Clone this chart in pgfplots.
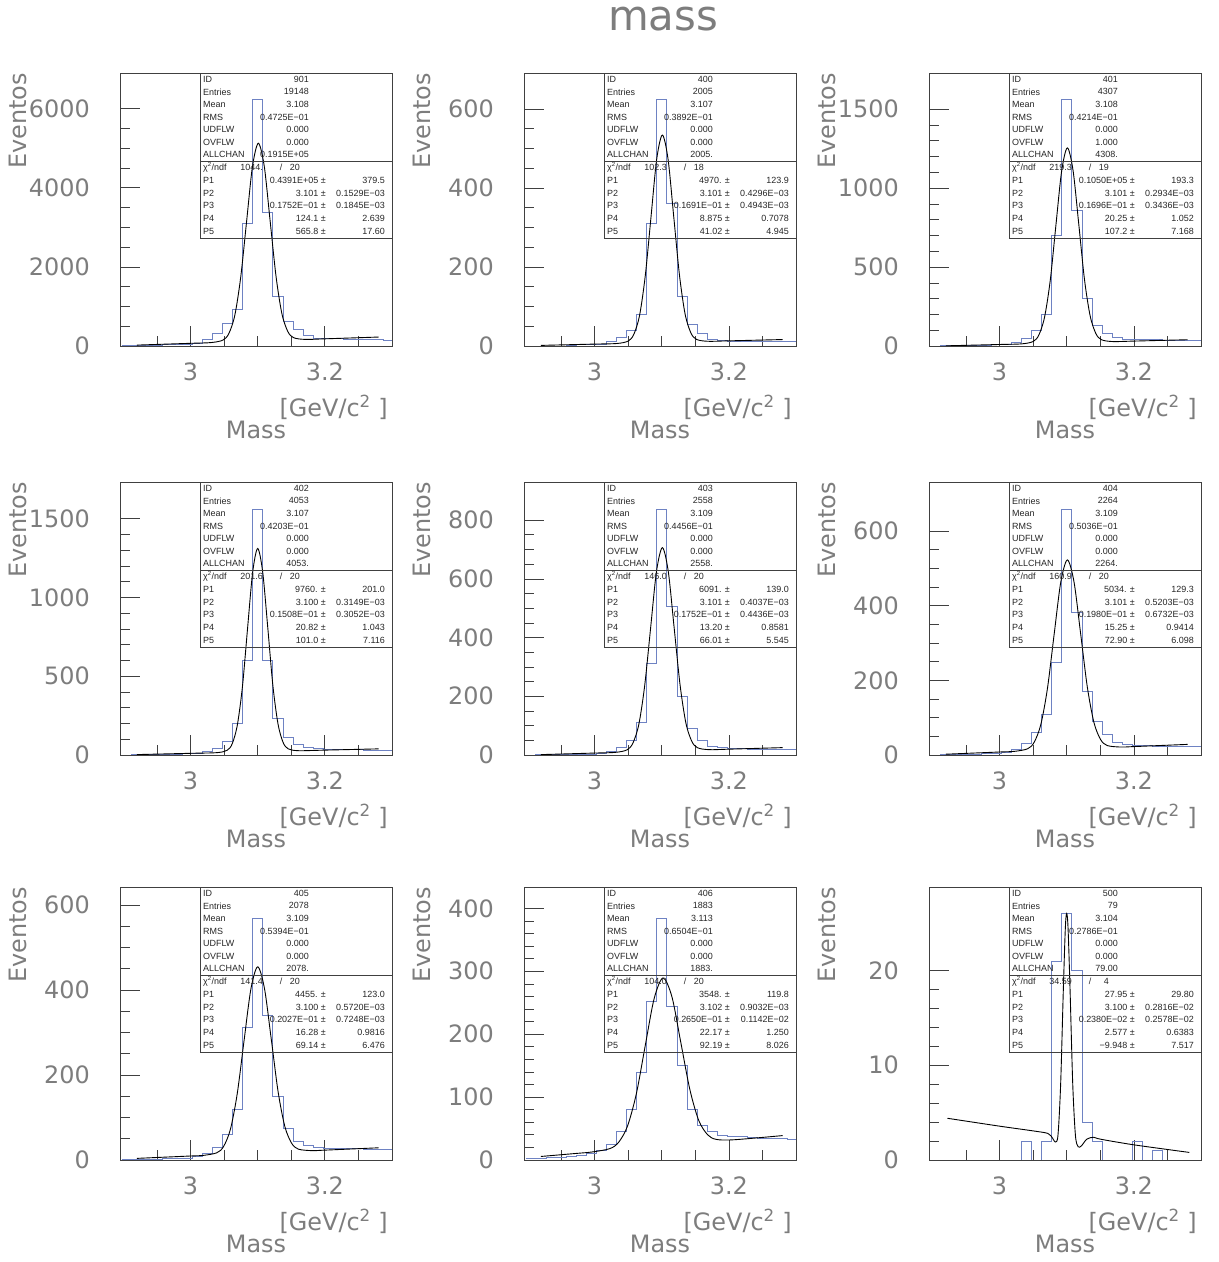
\documentclass[border=0pt]{standalone}
\usepackage{fontspec}
\setmainfont{Liberation Sans}
\newfontfamily\dejavu{DejaVu Sans}
\usepackage{pgfplots}
\usepackage{pgfplotstable}
\pgfplotsset{compat=1.18}
\newcommand{\tickfont}{\dejavu\fontsize{24}{24}\selectfont}
\newcommand{\titlefont}{\dejavu\fontsize{42}{42}\selectfont}
\newcommand{\statfont}{\fontsize{9}{9}\selectfont}
\definecolor{histc}{RGB}{110,130,195}
\definecolor{labc}{RGB}{125,125,125}

\pgfplotstableread{
x h1 h2 h3 h4 h5 h6 h7 h8 h9
2.8975 10 0 1 1 0 0 1 2 0
2.9125 15 0 2 2 1 1 1 3 0
2.9275 20 0 3 3 1 1 2 4 0
2.9425 25 0 4 4 2 2 2 5 0
2.9575 30 2 5 5 2 3 3 6 0
2.9725 35 3 7 6 3 4 4 8 0
2.9875 45 4 9 8 4 5 5 10 0
3.0025 60 5 13 12 6 8 8 15 0
3.0175 160 11 25 22 12 15 15 25 0
3.0325 330 22 50 45 25 30 30 45 2
3.0475 570 40 100 90 50 60 60 80 0
3.0625 930 81 200 200 110 110 120 140 2
3.0775 3100 311 700 600 312 249 313 252 21
3.0925 6230 625 1562 1562 836 659 568 384 26
3.1075 3390 362 860 600 508 382 341 244 20
3.1225 1260 126 300 230 200 170 150 150 4
3.1375 620 54 130 110 90 90 75 80 2
3.1525 410 31 80 70 50 55 45 55 0
3.1675 270 18 55 50 30 35 35 45 0
3.1825 200 14 45 40 25 28 30 40 0
3.1975 190 13 42 36 22 25 28 38 2
3.2125 185 12 40 35 22 25 28 37 0
3.2275 180 13 40 34 21 24 27 36 1
3.2425 175 11 38 33 20 23 27 35 0
3.2575 170 12 37 32 20 23 26 35 0
3.2725 160 11 36 31 19 22 26 34 0
3.2875 150 11 35 30 18 22 25 33 0
3.3 150 11 35 30 18 22 25 33 0
}\hist

\pgfplotsset{
  paw/.style={
    scale only axis, width=272bp, height=273bp, anchor=south west,
    xmin=2.895, xmax=3.3, ymin=0,
    xtick={3,3.2}, xticklabels={3,3.2},
    minor xtick={2.95,3.05,3.1,3.15,3.25},
    axis line style={black!75, line width=0.7bp},
    every tick/.style={black!75, line width=0.7bp},
    major tick length=20bp, minor tick length=10bp,
    xtick pos=bottom, ytick pos=left, tick align=inside,
    ticklabel style={font=\tickfont, text=labc},
    yticklabel style={anchor=east, inner sep=0pt, xshift=-30bp},
    xticklabel style={anchor=north, inner sep=0pt, yshift=-17bp},
    /pgf/number format/assume math mode=true,
    /pgf/number format/1000 sep={},
  },
  hist/.style={histc, line width=0.6bp, const plot, mark=none},
  fit/.style={black, line width=0.9bp, smooth, mark=none},
}

\tikzset{
  st/.style={font=\statfont, inner sep=0pt, text=black!85},
  boxline/.style={black!75, line width=0.6bp},
  lab/.style={font=\tickfont, text=labc, inner sep=0pt},
}

\newcommand{\panellabels}[2]{%
  \node[lab] at ({#1+136},{#2-84}) {Mass};
  \node[lab, anchor=east] at ({#1+268},{#2-61}) {[GeV/c\textsuperscript{2} ]};
  \node[lab, rotate=90, anchor=east] at ({#1-102},{#2+273}) {Eventos};
}

% #1 ID #2 entries #3 mean #4 rms #5 ovflw #6 allchan #7 chi #8 ndf
\newcommand{\statbox}[8]{%
  \draw[boxline] (80,0) rectangle (272,-165);
  \draw[boxline] (80,-88) -- (272,-88);
  \foreach \lab [count=\i from 0] in {ID,Entries,Mean,RMS,UDFLW,OVFLW,ALLCHAN}
    {\node[st,anchor=west] at (83,{-(\i+0.5)*12.57}) {\lab};}
  \node[st,anchor=east] at (189,-6.29) {#1};
  \node[st,anchor=east] at (189,-18.86) {#2};
  \node[st,anchor=east] at (189,-31.43) {#3};
  \node[st,anchor=east] at (189,-44.0) {#4};
  \node[st,anchor=east] at (189,-56.57) {0.000};
  \node[st,anchor=east] at (189,-69.14) {#5};
  \node[st,anchor=east] at (189,-81.71) {#6};
  \node[st,anchor=west] at (83,-94.4) {χ\textsuperscript{2}/ndf};
  \node[st,anchor=east] at (143,-94.4) {#7};
  \node[st] at (161,-94.4) {/};
  \node[st,anchor=east] at (180,-94.4) {#8};
}
\newcommand{\prow}[3]{%
  \node[st,anchor=west] at (83,{-88-(#1+0.5)*12.83}) {P#1};
  \node[st,anchor=east] at (206,{-88-(#1+0.5)*12.83}) {#2 ±};
  \node[st,anchor=east] at (265,{-88-(#1+0.5)*12.83}) {#3};
}

\begin{document}
\begin{tikzpicture}[x=1bp,y=1bp]
\path (0,0) rectangle (1219,1262);
\node[font=\titlefont, text=labc] at (663,1243) {mass};

% ---------- panel 1 (901)
\begin{axis}[paw, at={(120bp,916bp)}, ymax=6900, ytick={0,2000,4000,6000}, minor y tick num=3]
\addplot[hist] table[x=x,y=h1]{\hist};
\addplot[fit] coordinates {(2.92,22.3)(3.0,67.5)(3.0309,86.7)(3.0484,150)(3.0572,319)(3.0660,781)(3.0747,1733)(3.0835,3147)(3.0922,4532)(3.101,5124)(3.1098,4542)(3.1185,3167)(3.1273,1763)(3.1360,821)(3.1448,368)(3.1536,209)(3.1711,166)(3.2,180.7)(3.28,226)};
\end{axis}
\panellabels{120}{916}
\begin{scope}[shift={(120,1189)}]
\statbox{901}{19148}{3.108}{0.4725E−01}{0.000}{0.1915E+05}{1044.}{20}
\prow{1}{0.4391E+05}{379.5}\prow{2}{3.101}{0.1529E−03}\prow{3}{0.1752E−01}{0.1845E−03}\prow{4}{124.1}{2.639}\prow{5}{565.8}{17.60}
\end{scope}

% ---------- panel 2 (400)
\begin{axis}[paw, at={(524bp,916bp)}, ymax=691, ytick={0,200,400,600}, minor y tick num=3]
\addplot[hist] table[x=x,y=h2]{\hist};
\addplot[fit] coordinates {(2.92,1.5)(3.0,4.8)(3.0334,6.3)(3.0503,12.6)(3.0587,30.2)(3.0672,78.5)(3.0756,178.4)(3.0841,326.6)(3.0925,471.9)(3.101,533.9)(3.1095,472.6)(3.1179,328.0)(3.1264,180.5)(3.1348,81.3)(3.1433,33.7)(3.1517,16.8)(3.1686,11.9)(3.2,13.0)(3.28,16.3)};
\end{axis}
\panellabels{524}{916}
\begin{scope}[shift={(524,1189)}]
\statbox{400}{2005}{3.107}{0.3892E−01}{0.000}{2005.}{102.3}{18}
\prow{1}{4970.}{123.9}\prow{2}{3.101}{0.4296E−03}\prow{3}{0.1691E−01}{0.4943E−03}\prow{4}{8.875}{0.7078}\prow{5}{41.02}{4.945}
\end{scope}

% ---------- panel 3 (401)
\begin{axis}[paw, at={(929bp,916bp)}, ymax=1730, ytick={0,500,1000,1500}, minor y tick num=4]
\addplot[hist] table[x=x,y=h3]{\hist};
\addplot[fit] coordinates {(2.92,1.0)(3.0,9.5)(3.0332,13.5)(3.0501,28.6)(3.0586,70.0)(3.0671,183.8)(3.0756,418.6)(3.0840,767.5)(3.0925,1109.3)(3.101,1255.4)(3.1095,1111.2)(3.1180,771.2)(3.1264,424.1)(3.1349,191.1)(3.1434,79.1)(3.1519,39.5)(3.1688,28.0)(3.2,31.0)(3.28,39.6)};
\end{axis}
\panellabels{929}{916}
\begin{scope}[shift={(929,1189)}]
\statbox{401}{4307}{3.108}{0.4214E−01}{1.000}{4308.}{219.3}{19}
\prow{1}{0.1050E+05}{193.3}\prow{2}{3.101}{0.2934E−03}\prow{3}{0.1696E−01}{0.3436E−03}\prow{4}{20.25}{1.052}\prow{5}{107.2}{7.168}
\end{scope}

% ---------- panel 4 (402)
\begin{axis}[paw, at={(120bp,507bp)}, ymax=1734, ytick={0,500,1000,1500}, minor y tick num=4]
\addplot[hist] table[x=x,y=h4]{\hist};
\addplot[fit] coordinates {(2.92,2.6)(3.0,10.7)(3.0397,15.1)(3.0548,30.6)(3.0623,73.7)(3.0698,192.4)(3.0774,437.7)(3.0849,802.3)(3.0925,1159.4)(3.1,1311.8)(3.1075,1160.9)(3.1151,805.4)(3.1226,442.3)(3.1302,198.6)(3.1377,81.3)(3.1452,39.7)(3.1603,27.3)(3.2,30.9)(3.28,38.9)};
\end{axis}
\panellabels{120}{507}
\begin{scope}[shift={(120,780)}]
\statbox{402}{4053}{3.107}{0.4203E−01}{0.000}{4053.}{201.6}{20}
\prow{1}{9760.}{201.0}\prow{2}{3.100}{0.3149E−03}\prow{3}{0.1508E−01}{0.3052E−03}\prow{4}{20.82}{1.043}\prow{5}{101.0}{7.116}
\end{scope}

% ---------- panel 5 (403)
\begin{axis}[paw, at={(524bp,507bp)}, ymax=930, ytick={0,200,400,600,800}, minor y tick num=3]
\addplot[hist] table[x=x,y=h5]{\hist};
\addplot[fit] coordinates {(2.92,1.3)(3.0,6.6)(3.0309,8.9)(3.0484,17.5)(3.0572,40.8)(3.0660,104.7)(3.0747,236.5)(3.0835,432.4)(3.0922,624.3)(3.101,706.3)(3.1098,625.4)(3.1185,434.7)(3.1273,240.0)(3.1360,109.4)(3.1448,46.6)(3.1536,24.4)(3.1711,18.1)(3.2,19.8)(3.28,25.1)};
\end{axis}
\panellabels{524}{507}
\begin{scope}[shift={(524,780)}]
\statbox{403}{2558}{3.109}{0.4456E−01}{0.000}{2558.}{146.0}{20}
\prow{1}{6091.}{139.0}\prow{2}{3.101}{0.4037E−03}\prow{3}{0.1752E−01}{0.4436E−03}\prow{4}{13.20}{0.8581}\prow{5}{66.01}{5.545}
\end{scope}

% ---------- panel 6 (404)
\begin{axis}[paw, at={(929bp,507bp)}, ymax=731, ytick={0,200,400,600}, minor y tick num=3]
\addplot[hist] table[x=x,y=h6]{\hist};
\addplot[fit] coordinates {(2.92,2.1)(3.0,8.0)(3.0218,9.7)(3.0416,16.5)(3.0515,33.9)(3.0614,81.0)(3.0713,177.7)(3.0812,321.3)(3.0911,461.9)(3.101,522.3)(3.1109,463.4)(3.1208,324.3)(3.1307,182.1)(3.1406,86.8)(3.1505,41.2)(3.1604,25.3)(3.1802,21.3)(3.2,22.5)(3.28,28.4)};
\end{axis}
\panellabels{929}{507}
\begin{scope}[shift={(929,780)}]
\statbox{404}{2264}{3.109}{0.5036E−01}{0.000}{2264.}{160.9}{20}
\prow{1}{5034.}{129.3}\prow{2}{3.101}{0.5203E−03}\prow{3}{0.1980E−01}{0.6732E−03}\prow{4}{15.25}{0.9414}\prow{5}{72.90}{6.098}
\end{scope}

% ---------- panel 7 (405)
\begin{axis}[paw, at={(120bp,102bp)}, ymax=642, ytick={0,200,400,600}, minor y tick num=3]
\addplot[hist] table[x=x,y=h7]{\hist};
\addplot[fit] coordinates {(2.92,3.8)(3.0,9.4)(3.0189,10.8)(3.0392,17.0)(3.0493,32.0)(3.0595,72.8)(3.0696,156.4)(3.0797,280.5)(3.0899,402.1)(3.1,454.3)(3.1101,403.5)(3.1203,283.3)(3.1304,160.6)(3.1405,78.4)(3.1507,39.0)(3.1608,25.4)(3.1811,22.0)(3.2,23.2)(3.28,28.7)};
\end{axis}
\panellabels{120}{102}
\begin{scope}[shift={(120,375)}]
\statbox{405}{2078}{3.109}{0.5394E−01}{0.000}{2078.}{141.4}{20}
\prow{1}{4455.}{123.0}\prow{2}{3.100}{0.5720E−03}\prow{3}{0.2027E−01}{0.7248E−03}\prow{4}{16.28}{0.9816}\prow{5}{69.14}{6.476}
\end{scope}

% ---------- panel 8 (406)
\begin{axis}[paw, at={(524bp,102bp)}, ymax=434, ytick={0,100,200,300,400}, minor y tick num=4]
\addplot[hist] table[x=x,y=h8]{\hist};
\addplot[fit] coordinates {(2.92,5.6)(2.97,10.2)(2.996,12.7)(3.0225,18.0)(3.0358,28.0)(3.0490,53.6)(3.0623,105.4)(3.0755,181.8)(3.0888,256.7)(3.102,289.4)(3.1153,259.2)(3.1285,186.7)(3.1418,112.7)(3.155,63.3)(3.1683,40.2)(3.1815,32.7)(3.208,32.2)(3.28,38.8)};
\end{axis}
\panellabels{524}{102}
\begin{scope}[shift={(524,375)}]
\statbox{406}{1883}{3.113}{0.6504E−01}{0.000}{1883.}{104.0}{20}
\prow{1}{3548.}{119.8}\prow{2}{3.102}{0.9032E−03}\prow{3}{0.2650E−01}{0.1142E−02}\prow{4}{22.17}{1.250}\prow{5}{92.19}{8.026}
\end{scope}

% ---------- panel 9 (500)
\begin{axis}[paw, at={(929bp,102bp)}, ymax=28.8, ytick={0,10,20}, minor y tick num=4]
\addplot[hist] table[x=x,y=h9]{\hist};
\addplot[fit] coordinates {(2.9225,4.4)(3.0,3.57)(3.05,3.07)(3.072,2.8)(3.079,2.3)(3.083,1.9)(3.087,2.6)(3.091,8)(3.095,18)(3.098,24.5)(3.1,26)(3.102,24.5)(3.105,18)(3.109,8)(3.113,2.6)(3.117,1.4)(3.122,1.5)(3.13,2.2)(3.14,2.4)(3.15,2.2)(3.2,1.6)(3.2825,0.8)};
\end{axis}
\panellabels{929}{102}
\begin{scope}[shift={(929,375)}]
\statbox{500}{79}{3.104}{0.2786E−01}{0.000}{79.00}{34.59}{4}
\prow{1}{27.95}{29.80}\prow{2}{3.100}{0.2816E−02}\prow{3}{0.2380E−02}{0.2578E−02}\prow{4}{2.577}{0.6383}\prow{5}{−9.948}{7.517}
\end{scope}

\end{tikzpicture}
\end{document}
